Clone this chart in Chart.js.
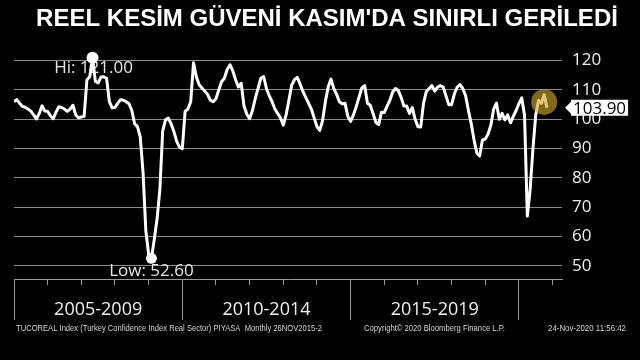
<!DOCTYPE html>
<html>
<head>
<meta charset="utf-8">
<script src="https://cdn.jsdelivr.net/npm/chart.js@4.4.0/dist/chart.umd.min.js"></script>
<style>
  html, body { margin: 0; padding: 0; background: #000; }
  canvas { display: block; }
</style>
</head>
<body>
<canvas id="chart" width="640" height="360"></canvas>
<script>
'use strict';

var title = "REEL KESİM GÜVENİ KASIM'DA SINIRLI GERİLEDİ";
var periodLabels = ['2005-2009', '2010-2014', '2015-2019'];
var yTicks = [50, 60, 70, 80, 90, 100, 110, 120];
var startYear = 2005;

// monthly values, Jan 2005 onwards
var values2005to2009 = [
  106, 106.7, 105.5, 104.4, 104.1, 103.5, 102.8, 101.5, 100.1, 102, 104.6, 102.8,
  102.7, 101.2, 100.2, 102.5, 104.3, 104, 103.5, 102.7, 103.5, 104.8, 101.5, 100.5,
  100.8, 101, 113.5, 114.5, 121, 113, 112.4, 114.4, 114.5, 114, 106, 103.9,
  104, 105.5, 106.7, 106.5, 106, 105.3, 103, 98.5, 97.5, 94, 82, 62,
  54, 52.6, 59, 66, 76, 96, 99.8, 100.4, 98.5, 95.8, 92.5, 90.5
];
var values2010to2014 = [
  90, 102.7, 103.5, 106, 119.3, 114.5, 111.8, 110.7, 109.6, 108.5, 106.5, 106,
  107, 110, 112.8, 114, 117, 118.6, 116.5, 113.5, 111, 112.3, 104.5, 101.7,
  100.2, 103, 107, 110.5, 114, 114.6, 110.5, 108, 106, 103.5, 102, 100.5,
  98, 101.5, 106.5, 111.7, 113.5, 114.3, 112, 109.5, 107.5, 105.5, 103.5, 100.5,
  97.5, 96.2, 99.5, 106, 111, 113.7, 110.5, 108.5, 106, 105.3, 105.5, 101
];
var values2015to2019 = [
  99.3, 101.5, 104.3, 107.5, 110.7, 111.5, 105.5, 104.8, 102, 99, 98.2, 102.4,
  102.3, 104.5, 106.5, 109.3, 110.5, 109.8, 107.5, 104.5, 104.5, 102, 104, 100,
  97.5, 97.4, 105.5, 109.5, 110.5, 111.5, 109.6, 111, 111.5, 111, 108, 105,
  105, 108.7, 111, 111.8, 110.5, 108, 103, 98.5, 93, 88.5, 87.5, 93,
  93.3, 95, 98, 103.5, 105.5, 100, 102, 99.8, 101.5, 98.8, 101, 103
];
var values2020 = [105.3, 107.3, 101.5, 67, 76, 90, 101.5, 106.5, 105.5, 108.4, 103.9];

var footerLeft = 'TUCOREAL Index (Turkey Confidence Index Real Sector) PIYASA  Monthly 26NOV2015-2';
var footerMid = 'Copyright\u00a9 2020 Bloomberg Finance L.P.';
var footerRight = '24-Nov-2020 11:56:42';

var allValues = values2005to2009.concat(values2010to2014, values2015to2019, values2020);
var points = allValues.map(function(v, i) {
  return { x: startYear + i / 12, y: v };
});

var hiIndex = allValues.indexOf(Math.max.apply(null, allValues));
var loIndex = allValues.indexOf(Math.min.apply(null, allValues));
var lastValue = allValues[allValues.length - 1];

// highlight circle sits on the last three months
var tail = points.slice(-3);
var highlight = [{
  x: tail.reduce(function(s, p) { return s + p.x; }, 0) / tail.length,
  y: tail.reduce(function(s, p) { return s + p.y; }, 0) / tail.length
}];

var periodMids = periodLabels.map(function(l) { return +l.slice(0, 4) + 2.5; });

var labelFont = '"Open Sans", sans-serif';

var overlay = {
  id: 'overlay',
  beforeDatasetsDraw: function(chart) {
    var ctx = chart.ctx;
    var meta = chart.getDatasetMeta(1);
    var hi = meta.data[hiIndex];
    var lo = meta.data[loIndex];
    ctx.save();
    ctx.font = '17px ' + labelFont;
    ctx.fillStyle = '#e6e6e6';
    ctx.textAlign = 'center';
    ctx.textBaseline = 'middle';
    ctx.fillText('Hi: ' + allValues[hiIndex].toFixed(2), hi.x + 1, hi.y + 10);
    ctx.fillText('Low: ' + allValues[loIndex].toFixed(2), lo.x, lo.y + 13);
    ctx.restore();
  },
  afterDraw: function(chart) {
    var ctx = chart.ctx;
    var area = chart.chartArea;
    var y = chart.scales.y.getPixelForValue(lastValue);
    var text = lastValue.toFixed(2);

    ctx.save();
    ctx.font = '17px ' + labelFont;
    var w = ctx.measureText(text).width + 4;
    var x0 = area.right + 9;
    ctx.fillStyle = '#fff';
    ctx.beginPath();
    ctx.moveTo(area.right + 3, y);
    ctx.lineTo(x0, y - 6);
    ctx.lineTo(x0, y - 8);
    ctx.lineTo(x0 + w, y - 8);
    ctx.lineTo(x0 + w, y + 8);
    ctx.lineTo(x0, y + 8);
    ctx.lineTo(x0, y + 6);
    ctx.closePath();
    ctx.fill();
    ctx.fillStyle = '#000';
    ctx.textAlign = 'left';
    ctx.textBaseline = 'middle';
    ctx.fillText(text, x0 + 2, y + 1);

    ctx.font = '9px "Liberation Sans", sans-serif';
    ctx.fillStyle = '#d6d6d6';
    ctx.fillText(footerLeft, 16, 329, 306);
    ctx.fillText(footerMid, 364, 329, 141);
    ctx.fillText(footerRight, 548, 329, 78);
    ctx.restore();
  }
};

new Chart(document.getElementById('chart'), {
  type: 'line',
  data: {
    datasets: [{
      type: 'scatter',
      data: highlight,
      order: 0,
      pointRadius: 13,
      pointBackgroundColor: 'rgba(210, 168, 40, 0.62)',
      pointBorderWidth: 0,
      showLine: false
    }, {
      data: points,
      order: 1,
      borderColor: '#ffffff',
      borderWidth: 3,
      borderJoinStyle: 'round',
      tension: 0,
      pointRadius: function(c) {
        return c.dataIndex === hiIndex ? 6 : (c.dataIndex === loIndex ? 5.5 : 0);
      },
      pointBackgroundColor: '#ffffff',
      pointBorderWidth: 0
    }]
  },
  options: {
    responsive: false,
    animation: false,
    layout: { padding: { left: 14, top: 0, right: 0, bottom: 0 } },
    plugins: {
      legend: { display: false },
      tooltip: { enabled: false },
      title: {
        display: true,
        text: title,
        color: '#ffffff',
        font: { family: '"Liberation Sans", Arial, sans-serif', size: 24, weight: 'bold', lineHeight: 1.2 },
        padding: { top: 5, bottom: 8 }
      }
    },
    scales: {
      x: {
        type: 'linear',
        position: 'bottom',
        min: 2005,
        max: 2021.28,
        afterBuildTicks: function(scale) {
          var ticks = [];
          for (var yr = 2005; yr <= 2021; yr++) ticks.push({ value: yr });
          periodMids.forEach(function(m) { ticks.push({ value: m }); });
          scale.ticks = ticks;
        },
        afterFit: function(scale) { scale.height = 81; },
        border: { display: true, color: '#9a9a9a', width: 1 },
        grid: {
          drawOnChartArea: false,
          drawTicks: true,
          tickLength: 41,
          color: function(c) {
            return c.tick && Number.isInteger(c.tick.value) ? '#9a9a9a' : 'rgba(0,0,0,0)';
          },
          tickBorderDash: function(c) {
            return c.tick && c.tick.value % 5 === 0 ? [] : [5, 80];
          }
        },
        ticks: {
          autoSkip: false,
          maxRotation: 0,
          padding: -21,
          color: '#f0f0f0',
          font: { family: labelFont, size: 18 },
          callback: function(v) {
            var k = periodMids.indexOf(v);
            return k >= 0 ? periodLabels[k] : '';
          }
        }
      },
      y: {
        position: 'right',
        min: 45.56,
        max: 126.42,
        afterBuildTicks: function(scale) {
          scale.ticks = yTicks.map(function(v) { return { value: v }; });
        },
        afterFit: function(scale) { scale.width = 78; },
        border: { display: false },
        grid: { color: '#8a8a8a', lineWidth: 1, drawTicks: false },
        ticks: {
          padding: 10,
          color: '#f0f0f0',
          font: { family: labelFont, size: 17 }
        }
      }
    }
  },
  plugins: [overlay]
});
</script>
</body>
</html>
